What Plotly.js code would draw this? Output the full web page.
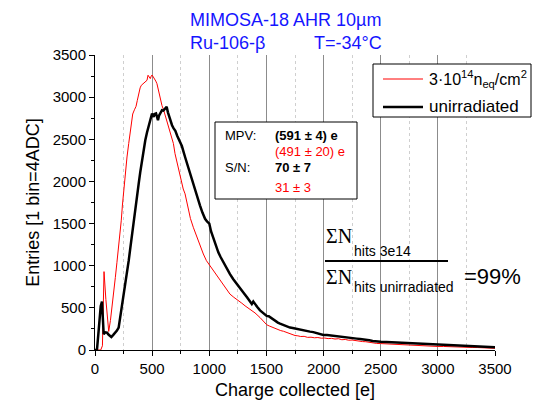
<!DOCTYPE html>
<html>
<head>
<meta charset="utf-8">
<script src="https://cdn.plot.ly/plotly-3.0.1.min.js"></script>
<style>html,body{margin:0;padding:0;background:#fff;}#chart{width:533px;height:402px;}</style>
</head>
<body>
<div id="chart"></div>
<script>
// ---- data ----
var irradX = [0,25,50,65,79,95,110,120,135,149,165,178,192,207,220,230,240,251,265,280,295,309,320,330,345,359,370,382,395,405,420,440,455,464,475,484,492,499,510,522,532,542,557,572,586,601,615,630,650,662,674,686,700,715,729,745,758,772,788,803,817,835,860,880,904,925,948,975,1006,1035,1065,1095,1123,1150,1181,1215,1254,1285,1313,1340,1370,1400,1444,1470,1502,1525,1550,1575,1600,1625,1650,1677,1700,1725,1750,1775,1800,1830,1860,1890,1920,1950,1980,2010,2040,2070,2100,2130,2160,2190,2220,2250,2280,2310,2340,2370,2400,2430,2465,2500,2550,2600,2650,2700,2750,2800,2850,2900,2950,3000,3050,3100,3150,3200,3250,3300,3350,3400,3450,3500];
var irradY = [0,0,0,50,930,600,300,220,350,500,700,860,1040,1220,1400,1540,1720,1890,2080,2290,2450,2570,2700,2800,2850,2890,2960,3040,3110,3140,3160,3185,3200,3260,3230,3220,3250,3262,3240,3220,3190,3160,3060,2964,2900,2845,2780,2706,2590,2540,2508,2450,2330,2240,2131,2040,1972,1910,1853,1760,1655,1560,1456,1380,1298,1220,1139,1060,1000,940,881,820,762,710,663,625,591,555,524,500,470,440,385,350,300,285,270,255,245,230,222,206,195,185,172,168,160,162,150,152,145,148,140,142,135,138,130,134,122,125,116,118,110,108,100,98,90,88,78,76,72,68,65,60,58,55,52,48,47,42,42,38,37,34,33,30,29,26,23,20];

var unirrX = [0,17,30,38,50,61,70,76,90,105,120,135,143,160,178,192,207,220,236,250,265,280,295,310,324,340,353,368,382,396,411,425,440,455,470,485,499,506,513,522,534,542,551,560,572,586,598,609,618,627,638,650,662,674,688,703,720,738,760,788,810,831,852,875,897,919,940,963,980,1000,1015,1035,1057,1079,1100,1123,1150,1181,1210,1240,1270,1298,1330,1356,1372,1385,1400,1420,1444,1470,1502,1520,1540,1560,1580,1600,1619,1640,1660,1680,1706,1730,1750,1770,1794,1820,1840,1860,1881,1910,1940,1970,1998,2030,2060,2090,2115,2140,2170,2200,2231,2260,2290,2320,2348,2375,2400,2430,2465,2500,2550,2600,2650,2700,2750,2800,2850,2900,2950,3000,3050,3100,3150,3200,3250,3300,3350,3400,3450,3500];
var unirrY = [0,0,200,385,520,575,350,187,210,206,180,160,155,180,206,230,266,380,504,620,742,900,1060,1220,1377,1540,1694,1840,1972,2110,2250,2370,2488,2580,2667,2740,2806,2780,2766,2800,2806,2770,2726,2780,2818,2845,2840,2853,2870,2885,2820,2766,2710,2667,2630,2600,2540,2488,2420,2290,2190,2091,1990,1893,1800,1714,1630,1556,1525,1500,1410,1330,1240,1159,1100,1040,970,901,840,782,730,683,625,570,545,575,540,510,470,440,405,400,380,365,350,325,313,300,292,280,266,262,255,250,246,238,232,225,218,212,200,188,179,178,172,170,167,160,155,150,147,140,135,130,127,120,115,108,100,98,95,92,88,85,80,76,72,68,64,60,58,56,52,50,48,45,42,40,36,32];

var xTickVals = [0,500,1000,1500,2000,2500,3000,3500];
var yTickVals = [0,500,1000,1500,2000,2500,3000,3500];

// ---- layout helpers (pixel -> paper) ----
var L = 95, R = 495, T = 55, B = 350;
function px(x){ return (x - L) / (R - L); }
function py(y){ return (B - y) / (B - T); }
var SANS = 'Liberation Sans, Arial, sans-serif';
var SERIF = 'Liberation Serif, Times New Roman, serif';

function ann(x, y, text, opts){
  opts = opts || {};
  return {
    xref:'paper', yref:'paper', x:px(x), y:py(y), text:text, showarrow:false,
    xanchor: opts.xanchor || 'left', yanchor: opts.yanchor || 'middle',
    font:{family: opts.family || SANS, size: opts.size || 13, color: opts.color || '#000'}
  };
}

var traces = [
  {x: irradX, y: irradY, type:'scatter', mode:'lines', line:{color:'#ff0000', width:1}, hoverinfo:'skip', showlegend:false},
  {x: unirrX, y: unirrY, type:'scatter', mode:'lines', line:{color:'#000000', width:2.5}, hoverinfo:'skip', showlegend:false}
];

var blue = '#1515ff';
var annotations = [
  ann(188, 20, 'MIMOSA-18 AHR 10µm', {size:18, color:blue}),
  ann(188, 43, 'Ru-106-β', {size:18, color:blue}),
  ann(312, 43, 'T=-34°C', {size:18, color:blue}),
  // legend
  ann(427, 79, '3·10<sup>14</sup>n<sub>eq</sub>/cm<sup>2</sup>', {size:16}),
  ann(427, 106, 'unirradiated', {size:17}),
  // MPV box
  ann(223, 135, 'MPV:', {size:13}),
  ann(273, 135, '<b>(591 ± 4) e</b>', {size:13}),
  ann(273, 151, '(491 ± 20) e', {size:13, color:'#ff0000'}),
  ann(223, 167, 'S/N:', {size:13}),
  ann(273, 167, '<b>70 ± 7</b>', {size:13}),
  ann(273, 187, '31 ± 3', {size:13, color:'#ff0000'}),
  // ratio formula
  ann(324, 236, 'ΣN', {size:20, family:SERIF}),
  ann(352, 251, 'hits 3e14', {size:14}),
  ann(324, 277, 'ΣN', {size:20, family:SERIF}),
  ann(352, 287, 'hits unirradiated', {size:14}),
  ann(462, 276, '=99%', {size:22})
];

var shapes = [
  {type:'rect', xref:'paper', yref:'paper', x0:px(373), x1:px(531), y0:py(64), y1:py(117), line:{color:'#000', width:1}, fillcolor:'rgba(255,255,255,1)', layer:'above'},
  {type:'line', xref:'paper', yref:'paper', x0:px(383), x1:px(423), y0:py(79), y1:py(79), line:{color:'#ff0000', width:1}},
  {type:'line', xref:'paper', yref:'paper', x0:px(383), x1:px(423), y0:py(107), y1:py(107), line:{color:'#000', width:2.5}},
  {type:'rect', xref:'paper', yref:'paper', x0:px(215), x1:px(357), y0:py(122), y1:py(199), line:{color:'#000', width:1}, fillcolor:'rgba(255,255,255,1)', layer:'above'},
  {type:'line', xref:'paper', yref:'paper', x0:px(325), x1:px(448), y0:py(261), y1:py(261), line:{color:'#000', width:2}}
];

var layout = {
  width:533, height:402,
  margin:{l:L, r:533-R, t:T, b:402-B, pad:0},
  paper_bgcolor:'#fff', plot_bgcolor:'#fff',
  showlegend:false,
  font:{family:SANS, size:15, color:'#000'},
  xaxis:{
    range:[0,3500], tickvals:xTickVals, ticks:'outside', ticklen:5, tickwidth:1, tickcolor:'#000',
    showline:true, linecolor:'#000', linewidth:1, zeroline:false,
    showgrid:true, gridcolor:'#8c8c8c', gridwidth:1,
    minor:{dtick:250, ticks:'outside', ticklen:3, tickcolor:'#000', showgrid:true, gridcolor:'#cfcfcf', griddash:'dot', gridwidth:1},
    tickfont:{family:SANS, size:15},
    title:{text:'Charge collected [e]', font:{family:SANS, size:18}, standoff:7}
  },
  yaxis:{
    range:[0,3500], tickvals:yTickVals, ticks:'outside', ticklen:5, tickwidth:1, tickcolor:'#000',
    showline:true, linecolor:'#000', linewidth:1, zeroline:false, showgrid:false,
    minor:{dtick:250, ticks:'outside', ticklen:3, tickcolor:'#000', showgrid:false},
    tickfont:{family:SANS, size:15},
    title:{text:'Entries [1 bin=4ADC]', font:{family:SANS, size:18}, standoff:8}
  },
  annotations: annotations,
  shapes: shapes
};

Plotly.newPlot('chart', traces, layout, {staticPlot:true, displayModeBar:false});
</script>
</body>
</html>
